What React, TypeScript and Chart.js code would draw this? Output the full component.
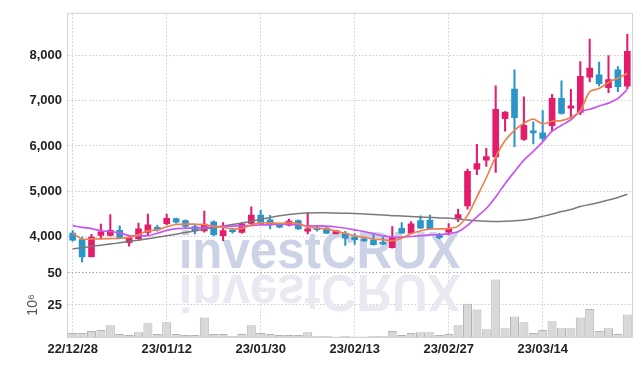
import React, { useEffect, useRef } from 'react';
import { Chart, registerables } from 'chart.js';
Chart.register(...registerables);

const dates = [
  '22/12/28', '22/12/29', '23/01/02', '23/01/03', '23/01/04', '23/01/05', '23/01/06', '23/01/09', '23/01/10', '23/01/11',
  '23/01/12', '23/01/13', '23/01/16', '23/01/17', '23/01/18', '23/01/19', '23/01/20', '23/01/25', '23/01/26', '23/01/27',
  '23/01/30', '23/01/31', '23/02/01', '23/02/02', '23/02/03', '23/02/06', '23/02/07', '23/02/08', '23/02/09', '23/02/10',
  '23/02/13', '23/02/14', '23/02/15', '23/02/16', '23/02/17', '23/02/20', '23/02/21', '23/02/22', '23/02/23', '23/02/24',
  '23/02/27', '23/02/28', '23/03/02', '23/03/03', '23/03/06', '23/03/07', '23/03/08', '23/03/09', '23/03/10', '23/03/13',
  '23/03/14', '23/03/15', '23/03/16', '23/03/17', '23/03/20', '23/03/21', '23/03/22', '23/03/23', '23/03/24', '23/03/27',
];

const opens = [
  4078, 3935, 3560, 4030, 4030, 4140, 3870, 3955, 4095, 4210,
  4290, 4400, 4355, 4225, 4130, 4330, 4025, 4150, 4095, 4295,
  4480, 4370, 4280, 4255, 4355, 4125, 4170, 4190, 4070, 4080,
  3990, 3950, 3930, 3845, 3760, 4185, 4080, 4355, 4365, 4055,
  4100, 4385, 4680, 5490, 5690, 5760, 6600, 7255, 6145, 6300,
  6290, 6450, 7050, 6835, 6740, 7515, 7570, 7285, 7680, 7320,
];
const highs = [
  4135, 3995, 4055, 4280, 4490, 4240, 4010, 4300, 4500, 4250,
  4500, 4410, 4370, 4280, 4565, 4350, 4310, 4170, 4320, 4660,
  4590, 4470, 4300, 4390, 4370, 4530, 4240, 4200, 4140, 4120,
  4070, 3965, 4040, 3990, 4225, 4310, 4335, 4460, 4480, 4075,
  4290, 4610, 5490, 6035, 5950, 7325, 6760, 7680, 7085, 6535,
  6780, 7140, 7435, 7250, 7860, 8355, 7850, 7990, 7750, 8460,
];
const lows = [
  3900, 3445, 3550, 3960, 4010, 3960, 3790, 3920, 4045, 4120,
  4260, 4300, 4200, 4060, 4100, 4020, 3915, 4080, 4080, 4260,
  4270, 4170, 4195, 4240, 4160, 4060, 4120, 4070, 4060, 3810,
  3830, 3895, 3815, 3830, 3750, 4075, 4075, 4180, 4170, 3950,
  4040, 4330, 4610, 5370, 5550, 5420, 6325, 5985, 6120, 6045,
  6120, 6325, 6700, 6615, 6690, 7410, 7325, 7175, 7195, 7265,
];
const closes = [
  3925, 3557, 3990, 4110, 4140, 3980, 3985, 4175, 4260, 4150,
  4405, 4320, 4230, 4130, 4280, 4045, 4135, 4110, 4285, 4480,
  4290, 4260, 4210, 4345, 4170, 4175, 4155, 4080, 4135, 3970,
  3935, 3910, 3825, 3835, 3990, 4080, 4285, 4190, 4175, 3980,
  4180, 4490, 5440, 5615, 5765, 6810, 6745, 6625, 6455, 6290,
  6165, 7050, 6720, 6885, 7535, 7715, 7375, 7465, 7305, 8085,
];
// volume in millions
const volumes = [
  3.1, 3.1, 4.6, 5.4, 9.2, 2.3, 1.5, 3.8, 10.7, 2.3,
  11.5, 2.3, 1.5, 1.5, 15.3, 2.3, 2.3, 0.8, 2.3, 9.2,
  3.1, 2.3, 1.5, 1.5, 1.5, 3.8, 0.8, 0.8, 0.3, 0.8,
  0.3, 0.3, 0.8, 0.8, 4.6, 1.5, 3.1, 3.8, 3.8, 1.5,
  2.3, 9.2, 26, 21.4, 6.1, 44.9, 6.9, 16.1, 11.5, 3.1,
  5.4, 12.2, 6.9, 6.9, 15.3, 21.9, 4.6, 6.9, 2.3, 17.6,
];
const maShort = [
  4080, 3950, 3955, 3955, 3960, 3965, 3985, 4050, 4130, 4150,
  4220, 4270, 4280, 4275, 4265, 4230, 4205, 4175, 4185, 4260,
  4305, 4305, 4296, 4310, 4290, 4215, 4190, 4175, 4125, 4075,
  4020, 3990, 3950, 3935, 3915, 3970, 4065, 4130, 4170, 4175,
  4180, 4235, 4470, 4880, 5300, 5760, 6120, 6345, 6500, 6590,
  6490, 6545, 6560, 6625, 6780, 7196, 7267, 7400, 7495, 7600,
];
const maMid = [
  4245, 4205, 4180, 4130, 4115, 4085, 4025, 4020, 4022, 4078,
  4140, 4180, 4187, 4190, 4202, 4220, 4230, 4235, 4240, 4246,
  4261, 4265, 4274, 4274, 4265, 4240, 4240, 4235, 4215, 4187,
  4152, 4115, 4065, 4022, 3990, 3990, 4005, 4022, 4043, 4045,
  4070, 4110, 4250, 4440, 4623, 4876, 5170, 5435, 5690, 5880,
  6090, 6326, 6455, 6578, 6760, 6809, 6880, 6945, 7048, 7246,
];
const maLong = [
  3737, 3755, 3789, 3815, 3840, 3868, 3898, 3925, 3957, 3990,
  4022, 4057, 4093, 4130, 4170, 4205, 4239, 4270, 4300, 4340,
  4383, 4426, 4463, 4491, 4513, 4525, 4530, 4528, 4522, 4518,
  4513, 4502, 4491, 4478, 4465, 4455, 4445, 4435, 4426, 4415,
  4410, 4395, 4370, 4350, 4340, 4335, 4340, 4350, 4370, 4400,
  4450, 4500, 4555, 4600, 4665, 4710, 4755, 4810, 4865, 4935,
];
const priceTicks = [4000, 5000, 6000, 7000, 8000];
const volumeTicks = [25, 50];
const xTickIdx = [0, 10, 20, 30, 40, 50];

const UP = '#e41c6c';
const DOWN = '#2b95c8';
const FONT = "'Liberation Sans', Arial, sans-serif";
const GRID = '#c9cbdd';

const watermark = {
  id: 'watermark',
  beforeDatasetsDraw(chart: any) {
    const { ctx, chartArea } = chart;
    ctx.save();
    ctx.strokeStyle = '#d2d2d8';
    ctx.lineWidth = 1;
    ctx.strokeRect(chartArea.left - 0.5, chartArea.top - 0.5, chartArea.right - chartArea.left + 1, chartArea.bottom - chartArea.top + 1);
    const cx = 319.5;
    ctx.font = "bold 51px 'Liberation Sans', Arial, sans-serif";
    ctx.textAlign = 'center';
    ctx.textBaseline = 'alphabetic';
    ctx.save();
    ctx.translate(cx, 268);
    ctx.scale(0.965, 1);
    ctx.fillStyle = '#cdd3e7';
    ctx.fillText('investCRUX', 0, 0);
    ctx.restore();
    ctx.save();
    ctx.translate(cx, 271.5);
    ctx.scale(0.965, -1);
    ctx.fillStyle = '#e8e9f1';
    ctx.fillText('investCRUX', 0, -3.5);
    ctx.restore();
    ctx.restore();
  },
};

export default function App() {
  const ref = useRef<HTMLCanvasElement | null>(null);
  useEffect(() => {
    document.body.style.margin = '0';
    const colors = opens.map((o, i) => (closes[i] >= o ? UP : DOWN));
    const chart = new Chart(ref.current as HTMLCanvasElement, {
      type: 'bar',
      data: {
        labels: dates,
        datasets: [
          {
            type: 'line', data: maShort, yAxisID: 'y', borderColor: '#f0814e', borderWidth: 1.7,
            pointRadius: 0, tension: 0.3, order: 0,
          },
          {
            type: 'line', data: maMid, yAxisID: 'y', borderColor: '#c955ee', borderWidth: 1.7,
            pointRadius: 0, tension: 0.3, order: 0,
          },
          {
            type: 'line', data: maLong, yAxisID: 'y', borderColor: '#7a7a7a', borderWidth: 1.5,
            pointRadius: 0, tension: 0.3, order: 0,
          },
          {
            type: 'bar', data: opens.map((o, i) => [o, closes[i]]), yAxisID: 'y', backgroundColor: colors,
            barThickness: 6, minBarLength: 2, grouped: false, order: 1,
          },
          {
            type: 'bar', data: lows.map((l, i) => [l, highs[i]]), yAxisID: 'y', backgroundColor: colors,
            barThickness: 1.4, grouped: false, order: 2,
          },
          {
            type: 'bar', data: volumes, yAxisID: 'yv', backgroundColor: '#d8d8d8', borderColor: '#b4b4b4',
            borderWidth: 1, barPercentage: 0.96, categoryPercentage: 1, grouped: false, order: 3,
          },
        ] as any,
      },
      options: {
        animation: false,
        responsive: false,
        layout: { padding: { top: 9, right: 10, left: 0, bottom: 0 } },
        plugins: { legend: { display: false }, tooltip: { enabled: false } },
        scales: {
          x: {
            type: 'category',
            offset: true,
            grid: { offset: false, color: GRID, drawTicks: false },
            border: { display: false, dash: [1.5, 2] },
            afterBuildTicks: (s: any) => { s.ticks = xTickIdx.map((v) => ({ value: v })); },
            afterFit: (s: any) => { s.height = 29; },
            ticks: {
              autoSkip: false, maxRotation: 0, padding: 5, color: '#222',
              font: { family: FONT, size: 13, weight: 'bold' },
            },
          },
          yv: {
            type: 'linear', position: 'left', stack: 'pane', stackWeight: 65,
            min: 0, max: 50,
            afterBuildTicks: (s: any) => { s.ticks = volumeTicks.map((v) => ({ value: v })); },
            afterFit: (s: any) => { s.width = 68; },
            grid: { color: (c: any) => (c.tick && c.tick.value === 50 ? '#a8a8a8' : GRID), drawTicks: false },
            border: { display: false, dash: [1.5, 2] },
            title: { display: true, text: '10⁶', color: '#555', font: { family: FONT, size: 14 }, padding: { top: 25, bottom: 0 } },
            ticks: { padding: 6, color: '#222', font: { family: FONT, size: 13, weight: 'bold' } },
          },
          y: {
            type: 'linear', position: 'left', stack: 'pane', stackWeight: 263,
            min: 3202, max: 8913,
            afterBuildTicks: (s: any) => { s.ticks = priceTicks.map((v) => ({ value: v })); },
            afterFit: (s: any) => { s.width = 68; },
            grid: { color: GRID, drawTicks: false },
            border: { display: false, dash: [1.5, 2] },
            ticks: {
              padding: 6, color: '#222', font: { family: FONT, size: 13, weight: 'bold' },
              callback: (v: any) => Number(v).toLocaleString('en-US'),
            },
          },
        } as any,
      },
      plugins: [watermark],
    });
    return () => chart.destroy();
  }, []);
  return (
    <div style={{ width: 642, height: 366 }}>
      <canvas ref={ref} width={642} height={366} />
    </div>
  );
}
